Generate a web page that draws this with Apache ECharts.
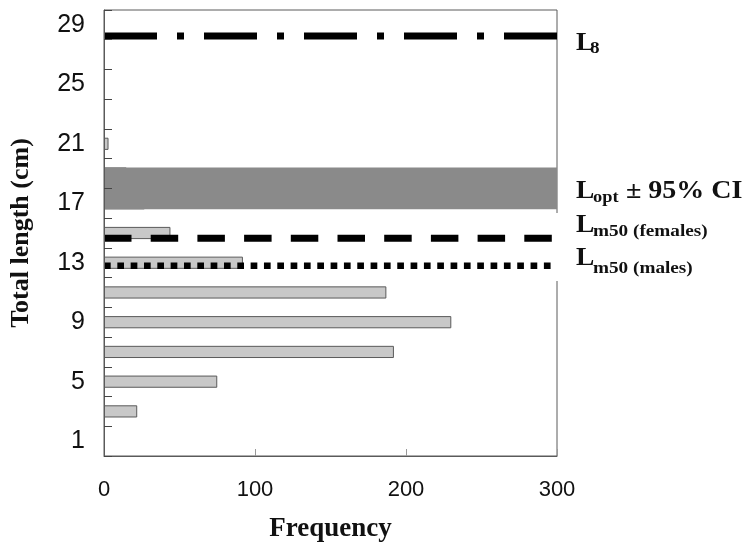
<!DOCTYPE html>
<html>
<head>
<meta charset="utf-8">
<script src="https://cdn.jsdelivr.net/npm/echarts@6/dist/echarts.min.js"></script>
<style>html,body{margin:0;padding:0;background:#fff}#c{width:747px;height:548px}</style>
</head>
<body>
<div id="c"></div>
<script>
// Length classes (bin centres, cm) and frequencies
const lengthClasses = ['1','3','5','7','9','11','13','15','17','19','21','23','25','27','29'];
const frequencies   = [0, 22, 75, 192, 230, 187, 92, 44, 27, 15, 3, 0, 0, 0, 0];
const freqTicks = [0, 100, 200, 300];
// Reference lengths (cm)
const lInf = 28.25;
const lOptLow = 16.6;
const lOptHigh = 19.4;
const lm50Females = 14.65;
const lm50Males = 12.8;

const serif = '"Liberation Serif", "Times New Roman", serif';
const sans = '"Liberation Sans", Arial, sans-serif';

const chart = echarts.init(document.getElementById('c'), null, {renderer: 'canvas'});

function hLine(y, dash, w, name) {
  return {
    name: name, type: 'line', xAxisIndex: 0, yAxisIndex: 1,
    data: [[freqTicks[0], y], [freqTicks[freqTicks.length - 1], y]],
    symbol: 'none', silent: true, z: 6, animation: false,
    lineStyle: {color: '#000', width: w, type: dash, cap: 'butt'}
  };
}

chart.setOption({
  animation: false,
  backgroundColor: '#fff',
  grid: {left: 102, top: 10, width: 455, height: 446, show: true, borderColor: '#5a5a5a', borderWidth: 1},
  xAxis: {
    type: 'value', min: 0, max: 300, interval: 100,
    name: 'Frequency', nameLocation: 'middle', nameGap: 60,
    nameTextStyle: {fontFamily: serif, fontWeight: 'bold', fontSize: 27, color: '#111'},
    axisLine: {show: true, lineStyle: {color: '#5a5a5a', width: 1}},
    axisTick: {show: true, inside: true, length: 7, lineStyle: {color: '#999', width: 1}},
    splitLine: {show: false},
    axisLabel: {fontFamily: sans, fontSize: 22, color: '#111', margin: 23,
      formatter: v => freqTicks.includes(v) ? String(v) : ''}
  },
  yAxis: [{
    type: 'category', data: lengthClasses, boundaryGap: true,
    name: 'Total length (cm)', nameLocation: 'middle', nameGap: 70, nameRotate: 90,
    nameTextStyle: {fontFamily: serif, fontWeight: 'bold', fontSize: 26, color: '#111'},
    axisLine: {show: true, lineStyle: {color: '#5a5a5a', width: 1}},
    axisTick: {show: true, inside: true, length: 8, interval: 0, alignWithLabel: false, lineStyle: {color: '#444', width: 1}},
    axisLabel: {interval: 1, fontFamily: sans, fontSize: 25, color: '#111', margin: 19},
    splitLine: {show: false},
    z: 8
  }, {
    type: 'value', min: 0, max: 30, show: false,
    axisLine: {show: false}, axisTick: {show: false}, axisLabel: {show: false}, splitLine: {show: false}
  }],
  series: [
    {
      type: 'bar', xAxisIndex: 0, yAxisIndex: 0,
      data: frequencies.map(v => (v > 0 ? v : null)),
      barWidth: '41%', z: 2,
      itemStyle: {color: '#c8c8c8', borderColor: '#5a5a5a', borderWidth: 1}
    },
    {
      type: 'line', xAxisIndex: 0, yAxisIndex: 1, data: [], z: 4, silent: true,
      markArea: {
        silent: true, z: 4,
        itemStyle: {color: '#8a8a8a', opacity: 1},
        label: {show: false},
        data: [[{xAxis: 0, yAxis: lOptLow}, {xAxis: 300, yAxis: lOptHigh}]]
      }
    },
    hLine(lInf, [53, 20, 7, 20], 7, 'Linf'),
    hLine(lm50Females, [27.5, 19.2], 7, 'Lm50 females'),
    hLine(lm50Males, [6.7, 6.63], 6.5, 'Lm50 males')
  ],
  graphic: [
    {type: 'rect', shape: {x: 554, y: 213, width: 6, height: 68}, style: {fill: '#fff'}, z: 10, silent: true},
    // L8
    {type: 'text', x: 576, y: 44, z: 20, scaleX: 1.1, style: {text: 'L', font: 'bold 25px ' + serif, fill: '#111', verticalAlign: 'middle', align: 'left'}},
    {type: 'text', x: 590, y: 48.5, z: 20, scaleX: 1.2, style: {text: '8', font: 'bold 16px ' + serif, fill: '#111', verticalAlign: 'middle', align: 'left'}},
    // Lopt ± 95% CI
    {type: 'text', x: 576, y: 192, z: 20, scaleX: 1.1, style: {text: 'L', font: 'bold 25px ' + serif, fill: '#111', verticalAlign: 'middle', align: 'left'}},
    {type: 'text', x: 593, y: 198, z: 20, scaleX: 1.15, style: {text: 'opt', font: 'bold 16px ' + serif, fill: '#111', verticalAlign: 'middle', align: 'left'}},
    {type: 'text', x: 626, y: 192, z: 20, scaleX: 1.12, style: {text: '± 95% CI', font: 'bold 25px ' + serif, fill: '#111', verticalAlign: 'middle', align: 'left'}},
    // Lm50 (females)
    {type: 'text', x: 576, y: 225.5, z: 20, scaleX: 1.1, style: {text: 'L', font: 'bold 25px ' + serif, fill: '#111', verticalAlign: 'middle', align: 'left'}},
    {type: 'text', x: 593, y: 232, z: 20, scaleX: 1.2, style: {text: 'm50 (females)', font: 'bold 16px ' + serif, fill: '#111', verticalAlign: 'middle', align: 'left'}},
    // Lm50 (males)
    {type: 'text', x: 576, y: 258.5, z: 20, scaleX: 1.1, style: {text: 'L', font: 'bold 25px ' + serif, fill: '#111', verticalAlign: 'middle', align: 'left'}},
    {type: 'text', x: 593, y: 268.5, z: 20, scaleX: 1.2, style: {text: 'm50 (males)', font: 'bold 16px ' + serif, fill: '#111', verticalAlign: 'middle', align: 'left'}}
  ]
});
</script>
</body>
</html>
